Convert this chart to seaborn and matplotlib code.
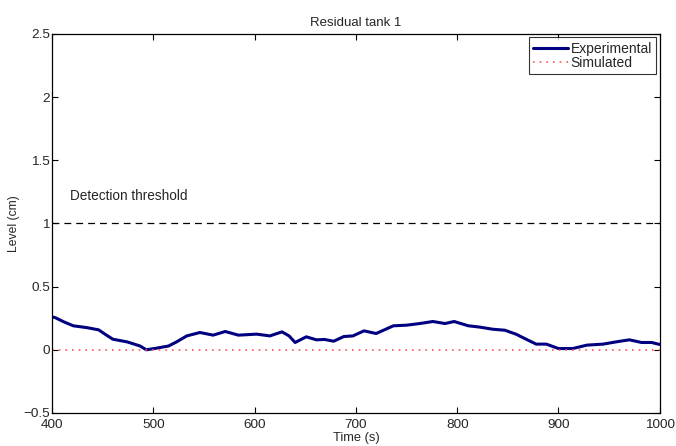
import pandas as pd
import seaborn as sns
import matplotlib.pyplot as plt

time_s = [400, 403, 412, 421, 434, 446, 453, 460, 474, 487, 493, 503, 515, 523, 533,
          546, 559, 571, 584, 602, 615, 627, 634, 640, 651, 661, 669, 678, 688, 697,
          708, 720, 737, 750, 763, 776, 788, 797, 811, 822, 835, 847, 858, 868, 878,
          888, 900, 914, 928, 944, 957, 970, 982, 992, 1000]
experimental = [0.26, 0.255, 0.22, 0.19, 0.176, 0.158, 0.12, 0.084, 0.063, 0.03, 0.0, 0.013,
                0.03, 0.063, 0.11, 0.137, 0.116, 0.145, 0.116, 0.124, 0.11, 0.142, 0.11,
                0.058, 0.103, 0.079, 0.082, 0.068, 0.105, 0.11, 0.15, 0.129, 0.19, 0.195,
                0.208, 0.224, 0.208, 0.224, 0.19, 0.18, 0.163, 0.155, 0.124, 0.084, 0.045,
                0.045, 0.01, 0.01, 0.037, 0.045, 0.063, 0.079, 0.058, 0.058, 0.042]
simulated = [0.0] * len(time_s)
threshold = 1.0

df = pd.DataFrame({"Time": time_s, "Experimental": experimental, "Simulated": simulated})

sns.set_theme(style="white")
plt.rcParams["font.family"] = ["Liberation Sans", "DejaVu Sans"]
plt.rcParams["xtick.direction"] = "in"
plt.rcParams["ytick.direction"] = "in"

fig = plt.figure(figsize=(6.76, 4.46), dpi=100)
ax = fig.add_axes([0.077, 0.074, 0.899, 0.850])

sns.lineplot(data=df, x="Time", y="Experimental", color="#000080", linewidth=2.2,
             label="Experimental", ax=ax)
sns.lineplot(data=df, x="Time", y="Simulated", color="#ff5555", linewidth=1.2,
             linestyle=(0, (1, 3)), label="Simulated", ax=ax)
ax.axhline(threshold, color="black", linestyle=(0, (5.5, 4)), linewidth=0.9)
ax.text(418, 1.16, "Detection threshold", fontsize=9.8, va="bottom")

ax.set_xlim(400, 1000)
ax.set_ylim(-0.5, 2.5)
ax.set_xticks(range(400, 1001, 100))
ax.set_yticks([-0.5, 0, 0.5, 1, 1.5, 2, 2.5])
ax.set_yticklabels(["\u22120.5", "0", "0.5", "1", "1.5", "2", "2.5"])
ax.tick_params(axis="both", labelsize=9.7, length=4, width=0.8, top=True, right=True,
               bottom=True, left=True, color="black")
ax.tick_params(axis="y", pad=1.5)
ax.tick_params(axis="x", pad=4.5)
for s in ax.spines.values():
    s.set_color("black")
    s.set_linewidth(0.9)

ax.set_title("Residual tank 1", fontsize=9.5, pad=6)
ax.set_xlabel("Time (s)", fontsize=9.3, labelpad=0.5)
ax.set_ylabel("Level (cm)", fontsize=8.7, labelpad=2)

leg = ax.legend(loc="upper right", fontsize=10, frameon=True, fancybox=False,
                edgecolor="black", borderaxespad=0.25, handlelength=2.5,
                borderpad=0.3, labelspacing=0.05, handletextpad=0.2)
leg.get_frame().set_linewidth(0.8)

fig.savefig("out.png", dpi=100)
